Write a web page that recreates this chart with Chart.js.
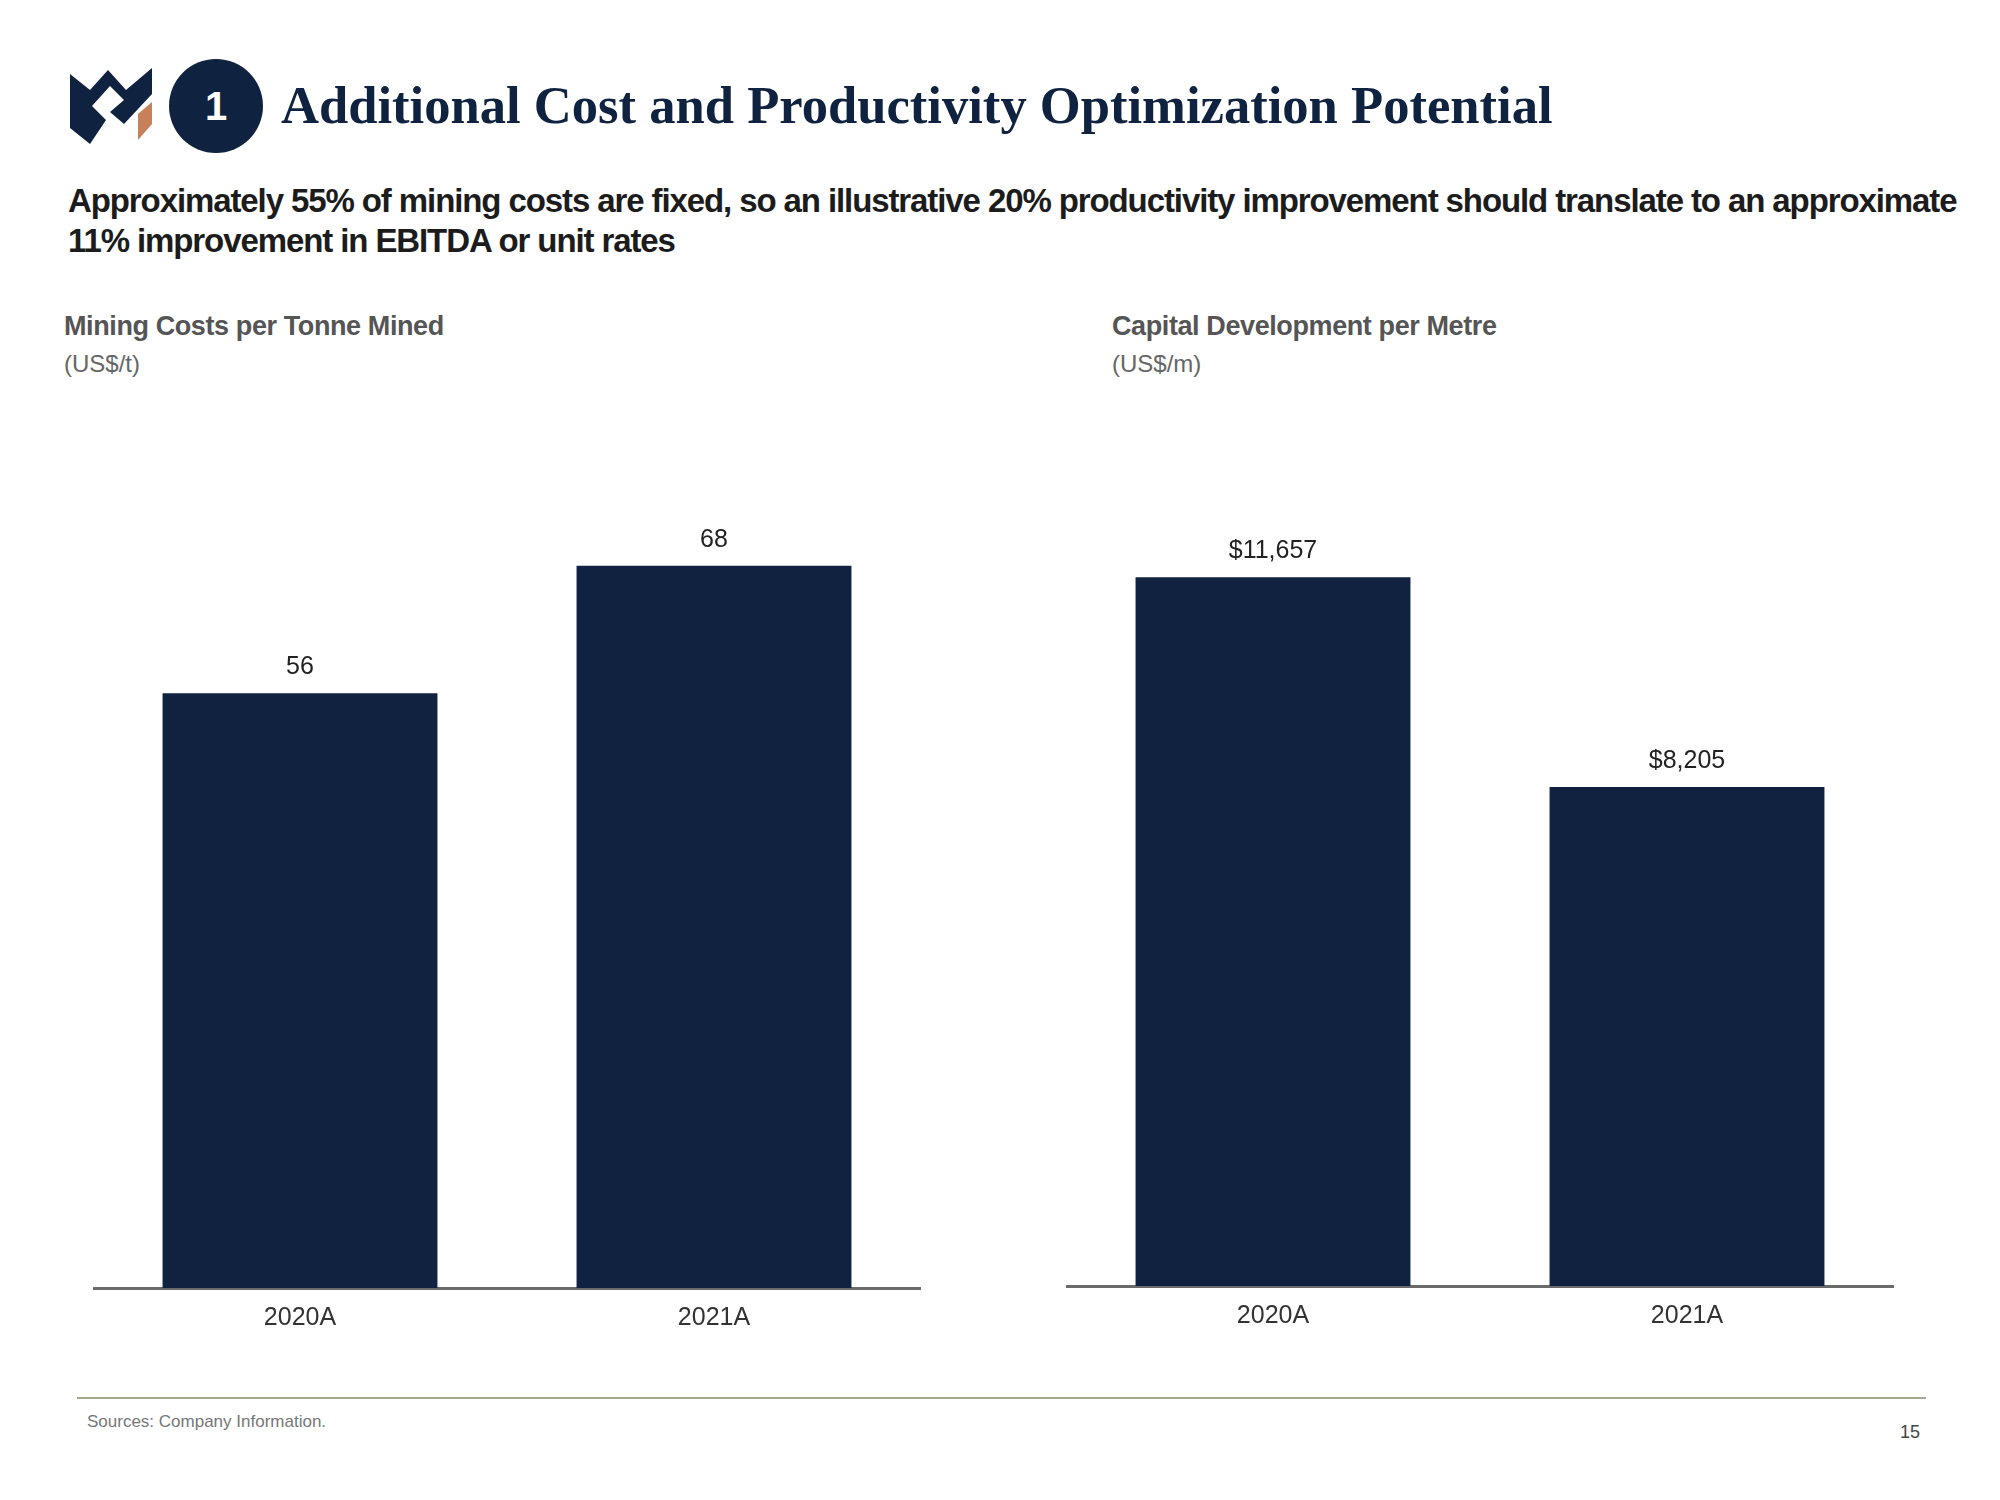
<!DOCTYPE html>
<html lang="en">
<head>
    <meta charset="UTF-8">
    <title>Additional Cost and Productivity Optimization Potential</title>
    <script src="https://cdn.jsdelivr.net/npm/chart.js"></script>
    <style>
        body {
            margin: 0;
            width: 2000px;
            height: 1500px;
            background: #fff;
            position: relative;
            font-family: "Liberation Sans", Arial, sans-serif;
            overflow: hidden;
        }
        .abs { position: absolute; }
        .title {
            left: 281px;
            top: 75px;
            font-family: "Liberation Serif", "Times New Roman", serif;
            font-weight: bold;
            font-size: 52.6px;
            color: #0f2240;
            white-space: nowrap;
        }
        .badge {
            left: 169px;
            top: 59px;
            width: 94px;
            height: 94px;
            border-radius: 50%;
            background: #0f2240;
            color: #fff;
            font-size: 40px;
            font-weight: bold;
            text-align: center;
            line-height: 94px;
        }
        .subtitle {
            left: 68px;
            top: 181px;
            font-size: 33px;
            font-weight: bold;
            letter-spacing: -1.1px;
            line-height: 40px;
            color: #1c1c1c;
            white-space: nowrap;
        }
        .chart-title {
            font-size: 27px;
            font-weight: bold;
            letter-spacing: -0.4px;
            color: #555;
            white-space: nowrap;
        }
        .chart-unit {
            font-size: 24px;
            color: #666;
        }
        .footer-line {
            left: 77px;
            top: 1397px;
            width: 1849px;
            height: 2px;
            background: #a8a690;
        }
        .sources {
            left: 87px;
            top: 1412px;
            font-size: 17px;
            color: #777;
        }
        .page {
            left: 1900px;
            top: 1422px;
            font-size: 18px;
            color: #444;
        }
    </style>
</head>
<body>
    <svg class="abs" style="left:68px;top:66px" width="90" height="80" viewBox="0 0 90 80">
        <polygon fill="#0f2240" points="2,8 22,24 40,4 58,24 84,2 84,28 56,58 42,46 56,34 42,20 24,40 38,54 22,78 2,62"/>
        <polygon fill="#c7805a" points="70,48 84,36 84,58 70,74"/>
    </svg>
    <div class="abs badge">1</div>
    <div class="abs title">Additional Cost and Productivity Optimization Potential</div>
    <div class="abs subtitle">Approximately 55% of mining costs are fixed, so an illustrative 20% productivity improvement should translate to an approximate<br>11% improvement in EBITDA or unit rates</div>

    <div class="abs chart-title" style="left:64px;top:311px">Mining Costs per Tonne Mined</div>
    <div class="abs chart-unit" style="left:64px;top:350px">(US$/t)</div>
    <div class="abs chart-title" style="left:1112px;top:311px">Capital Development per Metre</div>
    <div class="abs chart-unit" style="left:1112px;top:350px">(US$/m)</div>

    <canvas id="costChart" class="abs" style="left:93px;top:433px" width="828" height="915"></canvas>
    <canvas id="devChart" class="abs" style="left:1066px;top:431px" width="828" height="915"></canvas>

    <div class="abs footer-line"></div>
    <div class="abs sources">Sources: Company Information.</div>
    <div class="abs page">15</div>

    <script>
        const years = ['2020A', '2021A'];
        const miningCost = [56, 68];
        const capDev = [11657, 8205];

        const navy = '#10223f';

        // draws the value above each bar
        const valueLabels = {
            id: 'valueLabels',
            afterDatasetsDraw(chart, args, opts) {
                const ctx = chart.ctx;
                const meta = chart.getDatasetMeta(0);
                ctx.save();
                ctx.font = '25px "Liberation Sans", Arial, sans-serif';
                ctx.fillStyle = '#222';
                ctx.textAlign = 'center';
                ctx.textBaseline = 'middle';
                meta.data.forEach((bar, i) => {
                    const v = chart.data.datasets[0].data[i];
                    ctx.fillText(opts.format(v), bar.x, bar.y - 26);
                });
                ctx.restore();
            }
        };

        function makeChart(id, values, yMax, format) {
            return new Chart(document.getElementById(id), {
                type: 'bar',
                data: {
                    labels: years,
                    datasets: [{
                        data: values,
                        backgroundColor: navy,
                        barPercentage: 0.664,
                        categoryPercentage: 1.0
                    }]
                },
                options: {
                    responsive: false,
                    animation: false,
                    layout: { padding: 0 },
                    plugins: {
                        legend: { display: false },
                        tooltip: { enabled: false },
                        valueLabels: { format: format }
                    },
                    scales: {
                        x: {
                            grid: { display: false, drawTicks: false },
                            border: { display: true, color: '#6b6b6b', width: 3 },
                            ticks: {
                                color: '#333',
                                padding: 15,
                                font: { family: '"Liberation Sans", Arial, sans-serif', size: 25 }
                            }
                        },
                        y: {
                            display: false,
                            min: 0,
                            max: yMax
                        }
                    }
                },
                plugins: [valueLabels]
            });
        }

        makeChart('costChart', miningCost, 80.5, v => String(v));
        makeChart('devChart', capDev, 14060, v => '$' + v.toLocaleString('en-US'));
    </script>
</body>
</html>
